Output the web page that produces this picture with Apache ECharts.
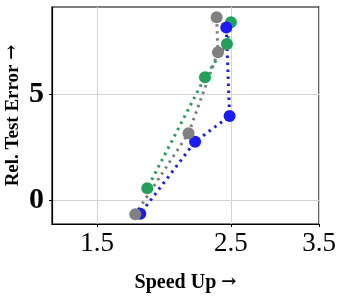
<!DOCTYPE html>
<html>
<head>
<meta charset="utf-8">
<script src="https://cdn.jsdelivr.net/npm/echarts@6/dist/echarts.min.js"></script>
<style>html,body{margin:0;padding:0;background:#fff;}#c{width:343px;height:296px;}</style>
</head>
<body>
<div id="c"></div>
<script>
// Data (x = speed up, y = relative test error)
var xTicks = [1.5, 2.5, 3.5];
var yTicks = [0, 5];
var greenX = [2.50, 2.462, 2.264, 1.816];
var greenY = [8.38, 7.36, 5.79, 0.55];
var blueX = [2.456, 2.487, 2.180, 1.768];
var blueY = [8.13, 3.96, 2.75, -0.65];
var grayX = [2.367, 2.379, 2.126, 1.735];
var grayY = [8.62, 6.97, 3.15, -0.67];

function pairs(xs, ys) { return xs.map(function (x, i) { return [x, ys[i]]; }); }

var serif = 'Liberation Serif';
function mk(name, color, xs, ys) {
  return {
    name: name, type: 'line', data: pairs(xs, ys),
    symbol: 'circle', symbolSize: 12,
    itemStyle: { color: color },
    lineStyle: { color: color, width: 3, type: [2.5, 4.5], cap: 'butt' },
    emphasis: { disabled: true }, animation: false
  };
}
var arrowRich = { a: { fontFamily: 'DejaVu Serif', fontSize: 18, color: '#000', padding: [0, 0, 2, 0] } };

var chart = echarts.init(document.getElementById('c'), null, { renderer: 'canvas' });
chart.setOption({
  animation: false,
  grid: { left: 52, right: 24, top: 7, bottom: 72, outerBoundsMode: 'none', containLabel: false, show: true, borderColor: '#000', borderWidth: 1.2, backgroundColor: 'transparent' },
  xAxis: {
    type: 'log', logBase: 10, min: 1.262, max: 3.5,
    name: 'Speed Up {a|\u2192}', nameLocation: 'middle', nameGap: 49,
    nameTextStyle: { fontFamily: serif, fontWeight: 'bold', fontSize: 20, color: '#000', rich: arrowRich },
    axisLine: { show: true, onZero: false, lineStyle: { color: '#000', width: 1.2 } },
    axisTick: { show: true, length: 3, lineStyle: { color: '#000' }, customValues: xTicks },
    axisLabel: { customValues: xTicks, fontFamily: serif, fontSize: 27, color: '#000', margin: 6, showMaxLabel: true, showMinLabel: true },
    splitLine: { show: true, lineStyle: { color: '#d3d3d3', width: 1 } },
    minorTick: { show: false }, minorSplitLine: { show: false }
  },
  yAxis: {
    type: 'value', min: -1.13, max: 9.1,
    name: 'Rel. Test Error {a|\u2192}', nameLocation: 'middle', nameGap: 29, nameMoveOverlap: false,
    nameTextStyle: { fontFamily: serif, fontWeight: 'bold', fontSize: 19, color: '#000', rich: arrowRich },
    axisLine: { show: true, onZero: false, lineStyle: { color: '#000', width: 1.2 } },
    axisTick: { show: true, length: 3, lineStyle: { color: '#000' }, customValues: yTicks },
    axisLabel: { customValues: yTicks, fontFamily: serif, fontWeight: 'bold', fontSize: 30, color: '#000', margin: 8 },
    splitLine: { show: true, lineStyle: { color: '#d3d3d3', width: 1 } }
  },
  series: [
    mk('green', '#22a05a', greenX, greenY),
    mk('blue', '#1a1aff', blueX, blueY),
    mk('gray', '#808080', grayX, grayY)
  ]
});
</script>
</body>
</html>
